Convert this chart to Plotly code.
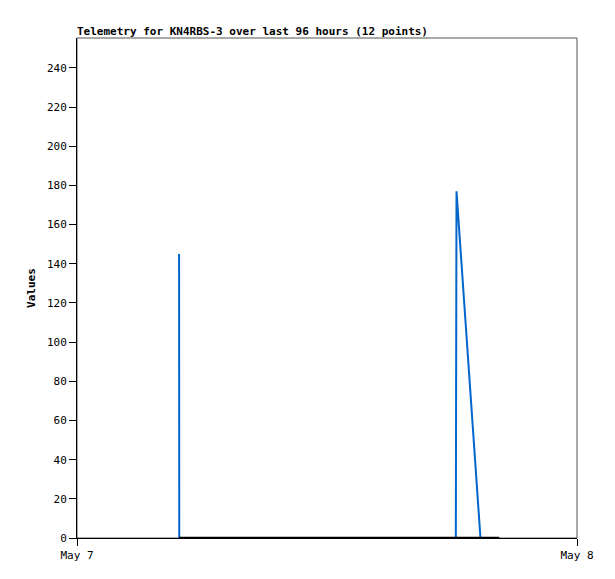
import plotly.graph_objects as go

# Data
blue_times = ["2024-05-07 04:54", "2024-05-07 04:54:30", "2024-05-07 18:11",
              "2024-05-07 18:11:30", "2024-05-07 18:13", "2024-05-07 19:22"]
blue_values = [145, 0, 0, 88, 177, 0]
black_times = ["2024-05-07 04:54", "2024-05-07 20:16"]
black_values = [0, 0]
x_tick_vals = ["2024-05-07 00:00", "2024-05-08 00:00"]
x_tick_text = ["May 7", "May 8"]
y_tick_vals = list(range(0, 241, 20))

FONT = "DejaVu Sans Mono"
W, H = 607, 571  # page body has an 8px margin

fig = go.Figure()
fig.add_trace(go.Scatter(x=blue_times, y=blue_values, mode="lines",
                         line=dict(color="#0066cc", width=2), showlegend=False))
fig.add_trace(go.Scatter(x=black_times, y=black_values, mode="lines",
                         line=dict(color="#000000", width=2.5), showlegend=False))

fig.add_shape(type="rect", xref="paper", yref="paper", x0=0, y0=0, x1=1, y1=1,
              line=dict(color="#555555", width=1), layer="below")

fig.update_layout(
    width=W, height=H,
    margin=dict(l=69, r=38, t=30, b=41),
    paper_bgcolor="white", plot_bgcolor="white",
    font=dict(family=FONT, size=11, color="black"),
    title=dict(text="<b>Telemetry for KN4RBS-3 over last 96 hours (12 points)</b>",
               x=69/W, xanchor="left", y=1-23/H, yanchor="middle",
               font=dict(family=FONT, size=11, color="black")),
    xaxis=dict(type="date", range=x_tick_vals, tickvals=x_tick_vals, ticktext=x_tick_text,
               showgrid=False, zeroline=False, showline=True, linecolor="black", linewidth=1,
               ticks="outside", ticklen=7, tickcolor="black"),
    yaxis=dict(range=[0, 255.3], tickvals=y_tick_vals, showgrid=False, zeroline=False,
               showline=True, linecolor="black", linewidth=1,
               ticks="outside", ticklen=7, tickcolor="black",
               title=dict(text="<b>Values</b>", standoff=9, font=dict(family=FONT, size=11))),
)

fig.write_html("out.html")
